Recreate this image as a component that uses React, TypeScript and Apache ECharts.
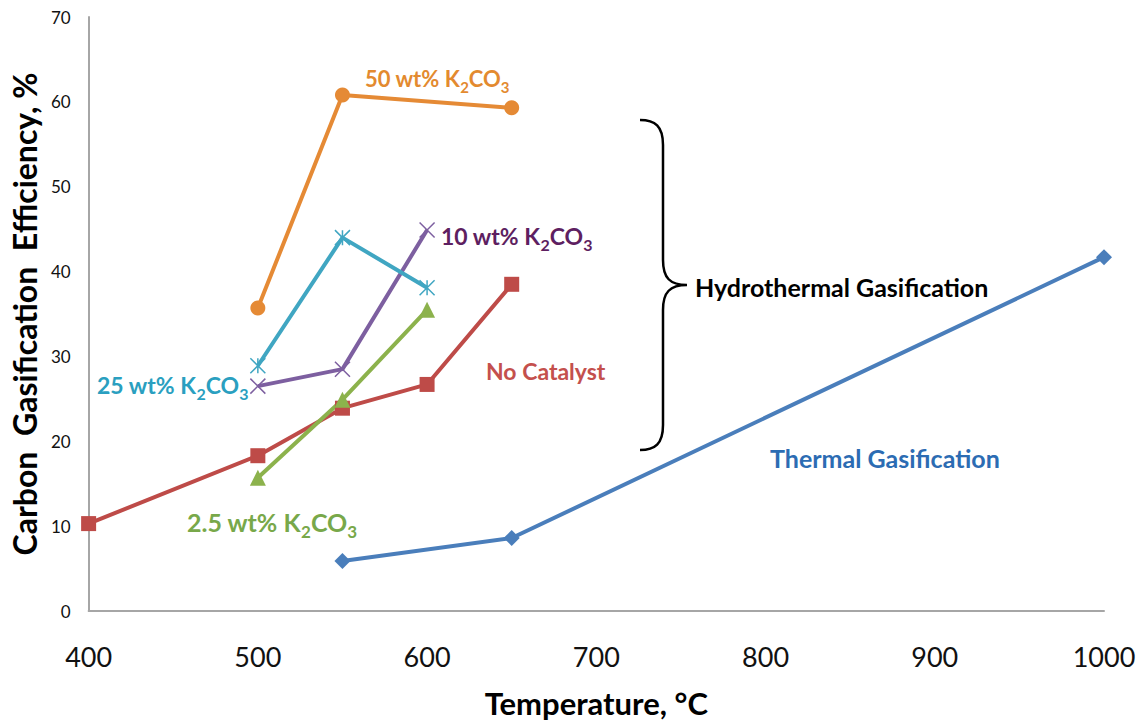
import React, { useEffect, useRef } from "react";
import * as echarts from "echarts";

const catalyst50 = [[500, 35.7], [550, 60.8], [650, 59.3]];
const catalyst25 = [[500, 28.9], [550, 44.0], [600, 38.1]];
const catalyst10 = [[500, 26.5], [550, 28.5], [600, 44.9]];
const catalyst2_5 = [[500, 15.7], [550, 24.9], [600, 35.5]];
const noCatalyst = [[400, 10.3], [500, 18.3], [550, 23.9], [600, 26.7], [650, 38.5]];
const thermal = [[550, 5.9], [650, 8.6], [1000, 41.7]];

const xTicks = { min: 400, max: 1000, interval: 100 };
const yTicks = { min: 0, max: 70, interval: 10 };

const FONT = "Lato";

const braceD =
  "M0,0 C15,0 23,6 23,25 L23,140 C23,158 30,165 47,165 C30,165 23,172 23,190 L23,305 C23,324 15,330 0,330";

function subLabel(main: string, color: string, size: number) {
  return {
    text: `{a|${main}K}{s|2}{a|CO}{s|3}`,
    rich: {
      a: { fontSize: size, fontWeight: "bold", fill: color, fontFamily: FONT, lineHeight: size + 10, verticalAlign: "middle" },
      s: { fontSize: Math.round(size * 0.68), fontWeight: "bold", fill: color, fontFamily: FONT, verticalAlign: "bottom", lineHeight: size + 10 },
    },
  };
}

export default function App() {
  const ref = useRef<HTMLDivElement>(null);
  useEffect(() => {
    if (!ref.current) return;
    echarts.graphic.registerShape("brace", echarts.graphic.extendPath(braceD, {}));
    const chart = echarts.init(ref.current, null, { renderer: "svg" });
    const lineSeries = (name: string, data: number[][], color: string, symbol: string, size: number, extra: any = {}) => ({
      name,
      type: "line",
      data,
      symbol,
      symbolSize: size,
      lineStyle: { color, width: 4 },
      itemStyle: { color, ...extra },
      z: 3,
    });
    chart.setOption({
      animation: false,
      backgroundColor: "#ffffff",
      grid: { left: 87, right: 43, top: 17, bottom: 114, containLabel: false },
      xAxis: {
        type: "value",
        ...xTicks,
        name: "Temperature, °C",
        nameLocation: "middle",
        nameGap: 76,
        nameTextStyle: { fontSize: 31, fontWeight: "bold", color: "#000", fontFamily: FONT },
        axisLine: { show: true, lineStyle: { color: "#a6a6a6", width: 2 } },
        axisTick: { show: false },
        splitLine: { show: false },
        axisLabel: { fontSize: 27, color: "#111", fontFamily: FONT, margin: 32, formatter: (v: number) => String(v) },
      },
      yAxis: {
        type: "value",
        ...yTicks,
        name: "Carbon  Gasification  Efficiency, %",
        nameLocation: "middle",
        nameRotate: 90,
        nameGap: 47,
        nameTextStyle: { fontSize: 32, fontWeight: "bold", color: "#000", fontFamily: FONT },
        axisLine: { show: true, lineStyle: { color: "#a6a6a6", width: 2 } },
        axisTick: { show: false },
        splitLine: { show: false },
        axisLabel: { fontSize: 17, color: "#111", fontFamily: FONT, margin: 18 },
      },
      series: [
        lineSeries("Thermal Gasification", thermal, "#4a7ebb", "diamond", 16),
        lineSeries("No Catalyst", noCatalyst, "#be4b48", "rect", 15),
        lineSeries("2.5 wt% K2CO3", catalyst2_5, "#8cb24c", "triangle", 16),
        lineSeries("10 wt% K2CO3", catalyst10, "#7d5fa0", "path://M0,0L10,10M10,0L0,10", 15, { borderColor: "#7d5fa0", borderWidth: 1.5 }),
        lineSeries("25 wt% K2CO3", catalyst25, "#40a6c2", "path://M0,0L10,10M10,0L0,10M5,0L5,10", 15, { borderColor: "#40a6c2", borderWidth: 1.5 }),
        lineSeries("50 wt% K2CO3", catalyst50, "#e58a35", "circle", 15),
      ],
      graphic: [
        { type: "brace", x: 640, y: 120, style: { stroke: "#000", lineWidth: 2.5, fill: "none" }, z: 10 },
        { type: "text", x: 365, y: 78, style: { ...subLabel("50 wt% ", "#e38a2f", 22), verticalAlign: "middle" }, z: 10 },
        { type: "text", x: 441, y: 236, style: { ...subLabel("10 wt% ", "#5e1f61", 23), verticalAlign: "middle" }, z: 10 },
        { type: "text", x: 97, y: 385, style: { ...subLabel("25 wt% ", "#2a9fc0", 23), verticalAlign: "middle" }, z: 10 },
        { type: "text", x: 187, y: 522, style: { ...subLabel("2.5 wt% ", "#78a84a", 25), verticalAlign: "middle" }, z: 10 },
        { type: "text", x: 486, y: 371, style: { text: "No Catalyst", fontSize: 23, fontWeight: "bold", fill: "#c4504d", fontFamily: FONT, verticalAlign: "middle" }, z: 10 },
        { type: "text", x: 695, y: 287, style: { text: "Hydrothermal Gasification", fontSize: 25, fontWeight: "bold", fill: "#000", fontFamily: FONT, verticalAlign: "middle" }, z: 10 },
        { type: "text", x: 770, y: 458, style: { text: "Thermal Gasification", fontSize: 25, fontWeight: "bold", fill: "#2c6cb3", fontFamily: FONT, verticalAlign: "middle" }, z: 10 },
      ],
    });
    return () => chart.dispose();
  }, []);
  return <div ref={ref} style={{ width: 1147, height: 725, position: "absolute", left: 0, top: 0 }} />;
}
